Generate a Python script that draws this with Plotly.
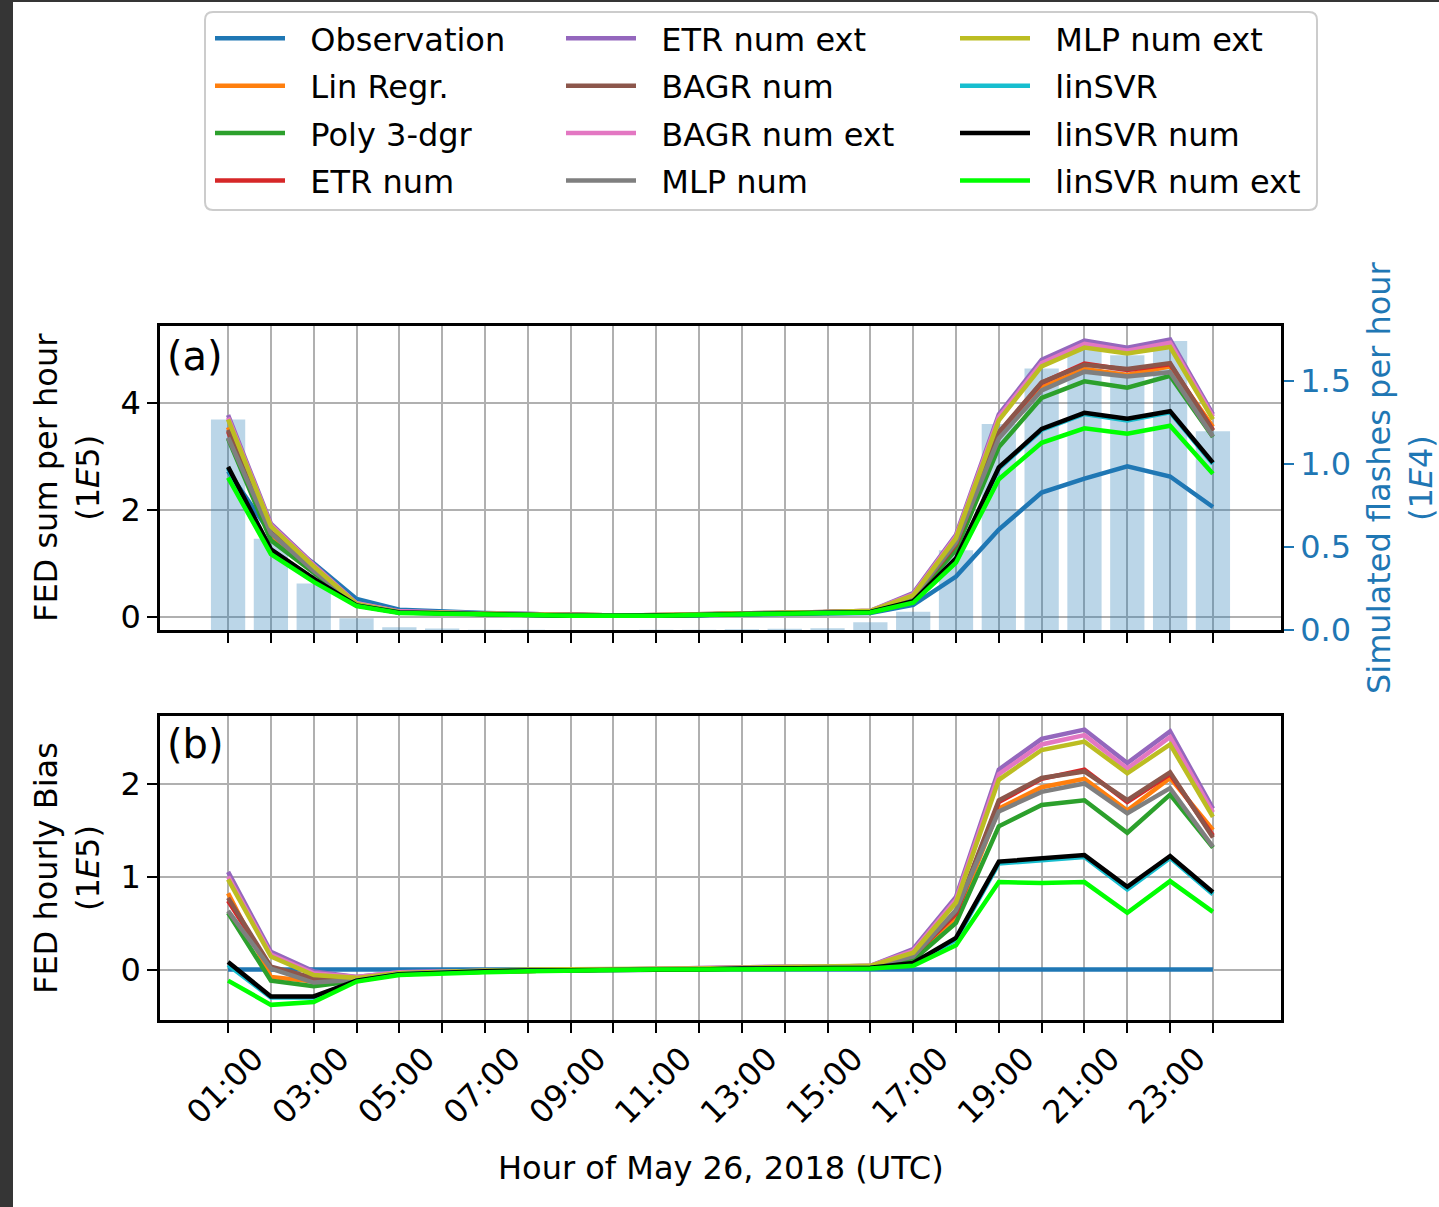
import plotly.graph_objects as go

# ---------------------------------------------------------------- data
hours = list(range(24))
tick_text = ["01:00", "", "03:00", "", "05:00", "", "07:00", "", "09:00", "",
             "11:00", "", "13:00", "", "15:00", "", "17:00", "", "19:00", "",
             "21:00", "", "23:00", ""]

# simulated flashes per hour (1E4)
sim_flashes = [1.268, 0.55, 0.28, 0.07, 0.017, 0.009, 0.002, 0.001, 0.0, 0.0,
               0.001, 0.002, 0.004, 0.008, 0.01, 0.047, 0.11, 0.48, 1.24, 1.575,
               1.70, 1.655, 1.74, 1.197]

# FED sum per hour (1E5)
fed_obs = [2.72, 1.55, 1.00, 0.33, 0.13, 0.09, 0.07, 0.05, 0.03, 0.02, 0.02, 0.03,
           0.04, 0.05, 0.06, 0.07, 0.22, 0.75, 1.63, 2.32, 2.58, 2.81, 2.62, 2.05]
fed_linreg = [3.54, 1.47, 0.87, 0.22, 0.09, 0.06, 0.05, 0.04, 0.03, 0.02, 0.02, 0.04,
              0.05, 0.07, 0.08, 0.10, 0.34, 1.30, 3.36, 4.28, 4.63, 4.52, 4.68, 3.55]
fed_poly3 = [3.33, 1.43, 0.82, 0.21, 0.09, 0.06, 0.05, 0.04, 0.03, 0.02, 0.02, 0.04,
             0.05, 0.07, 0.08, 0.10, 0.32, 1.25, 3.17, 4.09, 4.40, 4.28, 4.50, 3.36]
fed_etr_num = [3.46, 1.57, 0.90, 0.23, 0.09, 0.06, 0.05, 0.04, 0.03, 0.02, 0.02, 0.04,
               0.05, 0.07, 0.08, 0.10, 0.37, 1.35, 3.43, 4.37, 4.73, 4.61, 4.72, 3.49]
fed_etr_num_ext = [3.77, 1.74, 0.98, 0.25, 0.10, 0.07, 0.06, 0.05, 0.03, 0.02, 0.03, 0.04,
                   0.06, 0.08, 0.09, 0.11, 0.44, 1.53, 3.78, 4.80, 5.16, 5.03, 5.18, 3.78]
fed_bagr_num = [3.49, 1.58, 0.91, 0.23, 0.09, 0.06, 0.05, 0.04, 0.03, 0.02, 0.02, 0.04,
                0.05, 0.07, 0.08, 0.10, 0.37, 1.37, 3.45, 4.38, 4.71, 4.63, 4.74, 3.47]
fed_bagr_num_ext = [3.72, 1.71, 0.96, 0.25, 0.10, 0.07, 0.06, 0.05, 0.03, 0.02, 0.03, 0.04,
                    0.06, 0.08, 0.09, 0.11, 0.42, 1.50, 3.73, 4.74, 5.10, 4.97, 5.12, 3.74]
fed_mlp_num = [3.35, 1.56, 0.86, 0.22, 0.09, 0.06, 0.05, 0.04, 0.03, 0.02, 0.02, 0.04,
               0.05, 0.07, 0.08, 0.10, 0.36, 1.39, 3.33, 4.23, 4.58, 4.49, 4.57, 3.37]
fed_mlp_num_ext = [3.69, 1.69, 0.94, 0.24, 0.09, 0.07, 0.06, 0.05, 0.03, 0.02, 0.03, 0.04,
                   0.06, 0.08, 0.09, 0.11, 0.40, 1.47, 3.67, 4.68, 5.03, 4.92, 5.04, 3.69]
fed_linsvr = [2.77, 1.25, 0.70, 0.21, 0.08, 0.06, 0.05, 0.04, 0.02, 0.02, 0.02, 0.03,
              0.05, 0.06, 0.07, 0.09, 0.28, 1.07, 2.77, 3.49, 3.79, 3.67, 3.82, 2.86]
fed_linsvr_num = [2.80, 1.26, 0.71, 0.21, 0.08, 0.06, 0.05, 0.04, 0.02, 0.02, 0.02, 0.03,
                  0.05, 0.06, 0.07, 0.09, 0.29, 1.09, 2.79, 3.51, 3.81, 3.70, 3.84, 2.88]
fed_linsvr_num_ext = [2.60, 1.17, 0.65, 0.20, 0.07, 0.05, 0.04, 0.03, 0.02, 0.01, 0.02, 0.03,
                      0.04, 0.06, 0.06, 0.08, 0.26, 1.01, 2.57, 3.25, 3.52, 3.42, 3.57, 2.67]

# FED hourly bias (1E5)
bias_obs = [0.0] * 24
bias_linreg = [0.82, -0.08, -0.13, -0.11, -0.04, -0.03, -0.02, -0.01, 0.00, 0.00, 0.00, 0.01,
               0.01, 0.02, 0.02, 0.03, 0.12, 0.55, 1.73, 1.96, 2.05, 1.71, 2.06, 1.50]
bias_poly3 = [0.61, -0.12, -0.18, -0.12, -0.04, -0.03, -0.02, -0.01, 0.00, 0.00, 0.00, 0.01,
              0.01, 0.02, 0.02, 0.03, 0.10, 0.50, 1.54, 1.77, 1.82, 1.47, 1.88, 1.31]
bias_etr_num = [0.74, 0.02, -0.10, -0.10, -0.04, -0.03, -0.02, -0.01, 0.00, 0.00, 0.00, 0.01,
                0.01, 0.02, 0.02, 0.03, 0.15, 0.60, 1.80, 2.05, 2.15, 1.80, 2.10, 1.44]
bias_etr_num_ext = [1.05, 0.19, -0.02, -0.08, -0.03, -0.02, -0.01, 0.00, 0.00, 0.00, 0.01, 0.01,
                    0.02, 0.03, 0.03, 0.04, 0.22, 0.78, 2.15, 2.48, 2.58, 2.22, 2.56, 1.73]
bias_bagr_num = [0.77, 0.03, -0.09, -0.10, -0.04, -0.03, -0.02, -0.01, 0.00, 0.00, 0.00, 0.01,
                 0.01, 0.02, 0.02, 0.03, 0.15, 0.62, 1.82, 2.06, 2.13, 1.82, 2.12, 1.42]
bias_bagr_num_ext = [1.00, 0.16, -0.04, -0.08, -0.03, -0.02, -0.01, 0.00, 0.00, 0.00, 0.01, 0.01,
                     0.02, 0.03, 0.03, 0.04, 0.20, 0.75, 2.10, 2.42, 2.52, 2.16, 2.50, 1.69]
bias_mlp_num = [0.63, 0.01, -0.14, -0.11, -0.04, -0.03, -0.02, -0.01, 0.00, 0.00, 0.00, 0.01,
                0.01, 0.02, 0.02, 0.03, 0.14, 0.64, 1.70, 1.91, 2.00, 1.68, 1.95, 1.32]
bias_mlp_num_ext = [0.97, 0.14, -0.06, -0.09, -0.04, -0.02, -0.01, 0.00, 0.00, 0.00, 0.01, 0.01,
                    0.02, 0.03, 0.03, 0.04, 0.18, 0.72, 2.04, 2.36, 2.45, 2.11, 2.42, 1.64]
bias_linsvr = [0.05, -0.30, -0.30, -0.12, -0.05, -0.03, -0.02, -0.01, -0.01, 0.00, 0.00, 0.00,
               0.01, 0.01, 0.01, 0.02, 0.06, 0.32, 1.14, 1.17, 1.21, 0.86, 1.20, 0.81]
bias_linsvr_num = [0.08, -0.29, -0.29, -0.12, -0.05, -0.03, -0.02, -0.01, -0.01, 0.00, 0.00, 0.00,
                   0.01, 0.01, 0.01, 0.02, 0.07, 0.34, 1.16, 1.19, 1.23, 0.89, 1.22, 0.83]
bias_linsvr_num_ext = [-0.12, -0.38, -0.35, -0.13, -0.06, -0.04, -0.03, -0.02, -0.01, -0.01, 0.00, 0.00,
                       0.00, 0.01, 0.00, 0.01, 0.04, 0.26, 0.94, 0.93, 0.94, 0.61, 0.95, 0.62]

series_names = ["Observation", "Lin Regr.", "Poly 3-dgr", "ETR num", "ETR num ext",
                "BAGR num", "BAGR num ext", "MLP num", "MLP num ext", "linSVR",
                "linSVR num", "linSVR num ext"]
series_colors = ["#1f77b4", "#ff7f0e", "#2ca02c", "#d62728", "#9467bd", "#8c564b",
                 "#e377c2", "#7f7f7f", "#bcbd22", "#17becf", "#000000", "#00ff00"]
fed_series = [fed_obs, fed_linreg, fed_poly3, fed_etr_num, fed_etr_num_ext, fed_bagr_num,
              fed_bagr_num_ext, fed_mlp_num, fed_mlp_num_ext, fed_linsvr, fed_linsvr_num,
              fed_linsvr_num_ext]
bias_series = [bias_obs, bias_linreg, bias_poly3, bias_etr_num, bias_etr_num_ext, bias_bagr_num,
               bias_bagr_num_ext, bias_mlp_num, bias_mlp_num_ext, bias_linsvr, bias_linsvr_num,
               bias_linsvr_num_ext]
legend_column = ["legend", "legend", "legend", "legend",
                 "legend2", "legend2", "legend2", "legend2",
                 "legend3", "legend3", "legend3", "legend3"]

# ---------------------------------------------------------------- figure
W, H = 1439, 1207
PL, PR, PT, PB = 160, 1281, 326, 1020   # plot area in px
FONT = "DejaVu Sans"
FS = 32
LW = 4.5
BLUE = "#1f77b4"
LABEL_PAD = "\u00a0\u00a0"   # gap between legend line sample and its label

fig = go.Figure()

# simulated flashes as light bars on the right-hand axis of panel (a)
fig.add_trace(go.Bar(x=hours, y=sim_flashes, width=0.8, marker_color="rgba(31,119,180,0.3)",
                     marker_line_width=0, xaxis="x", yaxis="y", showlegend=False))

for name, color, fed, bias, lg in zip(series_names, series_colors, fed_series,
                                      bias_series, legend_column):
    fig.add_trace(go.Scatter(x=hours, y=fed, mode="lines", name=LABEL_PAD + name,
                             line=dict(color=color, width=LW), xaxis="x", yaxis="y2",
                             legend=lg, legendgroup=name))
    fig.add_trace(go.Scatter(x=hours, y=bias, mode="lines", name=name,
                             line=dict(color=color, width=LW), xaxis="x2", yaxis="y3",
                             showlegend=False, legendgroup=name))


def px_x(p):
    return (p - PL) / (PR - PL)


def px_y(p):
    return (PB - p) / (PB - PT)


grid = dict(showgrid=True, gridcolor="#b0b0b0", gridwidth=2.4, zeroline=False)
frame = dict(showline=True, linecolor="black", linewidth=2.6, ticks="outside",
             ticklen=10, tickwidth=2.4, tickcolor="black")
tickfont = dict(family=FONT, size=FS, color="black")

dom_a = [px_y(630), 1.0]
dom_b = [0.0, px_y(716)]
xrange_ = [-1.59, 23 + 1.59]

legend_common = dict(
    orientation="v", xref="container", yref="container", xanchor="left", yanchor="top",
    bgcolor="rgba(0,0,0,0)", borderwidth=0, itemwidth=70, traceorder="grouped",
    font=dict(family=FONT, size=FS, color="black"), tracegroupgap=2.8,
)

fig.update_layout(
    width=W, height=H,
    margin=dict(l=PL, r=W - PR, t=PT, b=H - PB, pad=0, autoexpand=False),
    paper_bgcolor="white", plot_bgcolor="white",
    font=dict(family=FONT, size=FS, color="black"),
    barmode="overlay",
    xaxis=dict(domain=[0, 1], anchor="y", range=xrange_, matches="x2",
               tickmode="array", tickvals=hours, showticklabels=False,
               mirror=True, **grid, **frame),
    yaxis=dict(domain=dom_a, anchor="x", side="right", range=[0, (629.5 - PT) / 165.8],
               tickmode="array", tickvals=[0.0, 0.5, 1.0, 1.5],
               ticktext=["0.0", "0.5", "1.0", "1.5"],
               showgrid=False, zeroline=False, showline=True, linecolor="black",
               linewidth=2.6, ticks="outside", ticklen=10, tickwidth=2.4,
               tickcolor=BLUE, tickfont=dict(family=FONT, size=FS, color=BLUE)),
    yaxis2=dict(overlaying="y", anchor="x", side="left",
                range=[(616.7 - 630) / 53.5, (616.7 - PT) / 53.5],
                tickmode="array", tickvals=[0, 2, 4], tickfont=tickfont,
                **grid, **frame),
    xaxis2=dict(domain=[0, 1], anchor="y3", range=xrange_,
                tickmode="array", tickvals=hours, ticktext=tick_text,
                tickangle=-45, tickfont=tickfont, ticklabelshift=26,
                ticklabelstandoff=-6,
                mirror=True, **grid, **frame),
    yaxis3=dict(domain=dom_b, anchor="x2",
                range=[(969.5 - PB) / 93.0, (969.5 - 716) / 93.0],
                tickmode="array", tickvals=[0, 1, 2], tickfont=tickfont,
                mirror=True, **grid, **frame),
    legend=dict(x=210 / W, y=1 - 11 / H, **legend_common),
    legend2=dict(x=561 / W, y=1 - 11 / H, **legend_common),
    legend3=dict(x=955 / W, y=1 - 11 / H, **legend_common),
)

# axis titles
title_font = dict(family=FONT, size=FS, color="black")
fig.add_annotation(text="FED sum per hour<br>(1<i>E</i>5)", xref="paper", yref="paper",
                   x=px_x(67), y=px_y(478), textangle=-90, showarrow=False,
                   xanchor="center", yanchor="middle", font=title_font)
fig.add_annotation(text="FED hourly Bias<br>(1<i>E</i>5)", xref="paper", yref="paper",
                   x=px_x(67), y=px_y(868), textangle=-90, showarrow=False,
                   xanchor="center", yanchor="middle", font=title_font)
fig.add_annotation(text="Simulated flashes per hour<br>(1<i>E</i>4)", xref="paper",
                   yref="paper", x=px_x(1400), y=px_y(478), textangle=-90, showarrow=False,
                   xanchor="center", yanchor="middle",
                   font=dict(family=FONT, size=FS, color=BLUE))
fig.add_annotation(text="Hour of May 26, 2018 (UTC)", xref="paper", yref="paper",
                   x=0.5, y=px_y(1168), showarrow=False, xanchor="center",
                   yanchor="middle", font=title_font)

# panel letters
fig.add_annotation(text="(a)", xref="paper", yref="paper", x=px_x(165), y=px_y(331),
                   xanchor="left", yanchor="top", showarrow=False,
                   font=dict(family=FONT, size=40, color="black"))
fig.add_annotation(text="(b)", xref="paper", yref="paper", x=px_x(165), y=px_y(719),
                   xanchor="left", yanchor="top", showarrow=False,
                   font=dict(family=FONT, size=40, color="black"))

# legend frame with rounded corners
x0, x1, y0, y1, r = px_x(205), px_x(1317), px_y(12), px_y(210), 8
rx, ry = r / (PR - PL), r / (PB - PT)
path = (f"M{x0 + rx},{y0} L{x1 - rx},{y0} Q{x1},{y0} {x1},{y0 - ry} "
        f"L{x1},{y1 + ry} Q{x1},{y1} {x1 - rx},{y1} L{x0 + rx},{y1} "
        f"Q{x0},{y1} {x0},{y1 + ry} L{x0},{y0 - ry} Q{x0},{y0} {x0 + rx},{y0} Z")
fig.add_shape(type="path", path=path, xref="paper", yref="paper",
              line=dict(color="#cccccc", width=2), fillcolor="white", layer="above")

# dark window edge on the left and top
fig.add_shape(type="rect", xref="paper", yref="paper", x0=px_x(-5), x1=px_x(13),
              y0=px_y(-5), y1=px_y(H + 5), line_width=0, fillcolor="#353535", layer="above")
fig.add_shape(type="rect", xref="paper", yref="paper", x0=px_x(-5), x1=px_x(W + 5),
              y0=px_y(-5), y1=px_y(2), line_width=0, fillcolor="#353535", layer="above")

fig.write_html("out.html")
